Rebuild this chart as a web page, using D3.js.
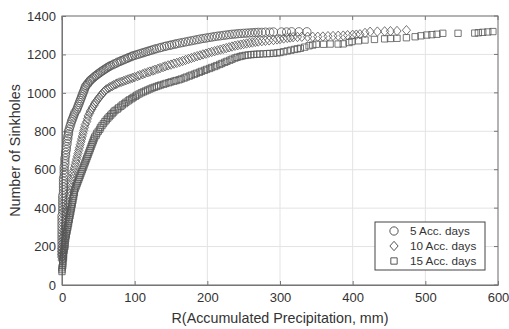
<!DOCTYPE html>
<html>
<head>
<meta charset="utf-8">
<script src="https://cdn.jsdelivr.net/npm/d3@7"></script>
<style>
  body { margin: 0; background: #fff; }
  svg { display: block; font-family: "Liberation Sans", Arial, sans-serif; }
</style>
</head>
<body>
<svg width="509" height="329"></svg>
<script>
// [R (mm), number of sinkholes]
// 5 accumulated days (circles)
let acc5 = [[0,150],[0,165],[0,180],[0,195],[0,210],[0,225],[0,240],[0,255],[0,270],[0,285],[0,300],[0,315],[0,330],[0,345],[0,360],
  [1,375],[1,390],[1,405],[1,420],[1,435],[1,450],[1,465],[2,480],[2,495],[2,510],[2,525],[2,540],[2,555],
  [3,570],[3,585],[3,600],[3,615],[4,630],[4,645],[4,660],[5,675],[5,690],[6,705],[6,720],[7,735],[7,750],
  [8,762],[8,775],[9,787],[9,800],[10,812],[11,825],[12,837],[13,850],[14,860],[15,870],[16,880],[17,890],
  [18,900],[20,910],[21,920],[22,930],[23,940],[24,950],[25,960],[26,970],[27,980],[28,990],[29,1000],[30,1010],
  [31,1020],[32,1030],[33,1038],[35,1045],[36,1052],[38,1060],[39,1066],[41,1072],[43,1078],[45,1085],[47,1091],
  [49,1097],[51,1102],[53,1108],[55,1113],[57,1118],[59,1123],[61,1128],[63,1133],[65,1137],[67,1142],[70,1146],
  [72,1151],[75,1155],[77,1160],[80,1164],[82,1168],[85,1172],[87,1176],[90,1180],[92,1184],[95,1188],[97,1192],
  [100,1195],[103,1199],[106,1202],[109,1206],[112,1209],[115,1213],[118,1216],[121,1220],[124,1223],[127,1227],
  [130,1230],[134,1234],[137,1237],[141,1241],[144,1244],[148,1247],[151,1250],[155,1253],[158,1256],[162,1259],
  [166,1262],[170,1265],[174,1268],[178,1271],[182,1274],[186,1277],[190,1280],[194,1283],[198,1285],[202,1288],
  [206,1290],[210,1293],[214,1295],[218,1297],[222,1299],[226,1301],[230,1303],[234,1305],[238,1306],[242,1308],
  [246,1309],[250,1310],[254,1311],[258,1312],[262,1313],[266,1314],[270,1315],[275,1315],[280,1316],[286,1316],
  [291,1317],[302,1317],[309,1317],[316,1318],[326,1318],[337,1318]];

// 10 accumulated days (diamonds)
let acc10 = [[0,130],[0,145],[0,160],[0,175],[0,190],[1,205],[1,220],[2,235],[2,250],[3,265],[3,280],[4,295],[4,310],
  [5,325],[5,340],[6,355],[6,370],[7,385],[7,400],[8,415],[8,430],[9,445],[10,460],[10,475],[11,490],[12,505],
  [12,520],[13,535],[14,550],[15,565],[15,580],[16,595],[17,610],[18,625],[19,640],[20,655],[21,670],[22,685],
  [23,700],[24,715],[25,730],[26,745],[27,760],[28,775],[29,790],[30,805],[31,820],[32,835],[34,850],[35,865],
  [36,880],[38,893],[39,905],[41,915],[42,925],[44,935],[45,945],[47,955],[49,965],[51,975],[53,985],[55,994],
  [57,1003],[59,1011],[61,1018],[64,1024],[66,1030],[69,1035],[71,1040],[74,1045],[76,1049],[79,1054],[82,1058],
  [85,1062],[88,1066],[91,1070],[94,1074],[97,1078],[100,1082],[104,1087],[107,1092],[111,1097],[114,1102],
  [118,1107],[121,1111],[125,1116],[128,1120],[132,1125],[135,1129],[139,1134],[142,1138],[146,1143],[150,1147],
  [154,1152],[158,1156],[162,1161],[166,1166],[170,1171],[174,1176],[178,1181],[182,1186],[186,1191],[190,1195],
  [194,1200],[198,1204],[202,1209],[206,1213],[210,1217],[214,1221],[218,1225],[222,1229],[226,1233],[230,1237],
  [234,1241],[238,1245],[242,1248],[246,1251],[250,1254],[254,1257],[258,1260],[262,1262],[266,1265],[270,1267],
  [275,1269],[280,1271],[285,1273],[291,1275],[296,1278],[300,1280],[305,1283],[310,1286],[314,1288],[318,1290],
  [324,1291],[330,1292],[338,1292],[345,1292],[352,1292],[359,1293],[366,1295],[373,1296],[380,1297],[387,1298],
  [393,1300],[400,1302],[405,1303],[410,1305],[417,1312],[424,1318],[434,1319],[444,1320],[452,1321],[461,1322],[474,1326]];

// 15 accumulated days (squares)
let acc15 = [[0,70],[0,80],[0,90],[1,100],[1,110],[1,120],[1,130],[2,140],[2,150],[2,160],[2,170],[3,180],[3,190],
  [4,200],[4,210],[4,220],[4,230],[5,240],[5,250],[6,260],[6,270],[7,280],[7,290],[8,300],[8,310],[9,320],[9,330],
  [10,340],[10,350],[11,360],[11,370],[12,380],[12,390],[13,400],[13,410],[14,420],[14,430],[15,440],[15,450],
  [16,460],[16,470],[17,480],[17,490],[18,500],[19,510],[20,520],[21,530],[22,540],[23,550],[24,560],[25,570],
  [26,580],[27,590],[28,600],[29,610],[30,620],[31,630],[32,640],[33,650],[34,660],[35,670],[36,680],[37,690],
  [38,700],[39,710],[40,720],[41,730],[42,740],[43,750],[44,760],[45,770],[47,780],[48,790],[50,800],[52,810],
  [53,820],[55,830],[57,840],[59,850],[61,859],[63,868],[65,876],[67,884],[69,892],[71,900],[73,908],[76,915],
  [78,922],[81,930],[83,937],[86,944],[88,951],[91,958],[93,964],[96,970],[98,976],[101,982],[103,988],[106,994],
  [109,1000],[112,1005],[115,1010],[118,1015],[121,1020],[124,1025],[127,1029],[130,1033],[133,1037],[136,1041],
  [140,1045],[143,1049],[147,1053],[150,1057],[154,1061],[157,1064],[161,1068],[164,1072],[168,1077],[171,1082],
  [175,1087],[178,1092],[182,1097],[185,1102],[189,1107],[192,1112],[196,1117],[199,1122],[203,1127],[206,1132],
  [210,1137],[213,1142],[217,1148],[220,1153],[224,1159],[227,1164],[231,1170],[234,1175],[238,1181],[241,1185],
  [245,1189],[248,1192],[252,1195],[256,1197],[260,1199],[264,1200],[268,1201],[272,1202],[277,1203],[282,1204],
  [286,1205],[291,1206],[296,1208],[300,1210],[305,1214],[310,1218],[315,1222],[320,1226],[324,1229],[328,1232],
  [334,1238],[340,1245],[345,1249],[350,1253],[360,1253],[369,1254],[380,1254],[387,1255],[395,1262],[399,1267],
  [408,1271],[417,1275],[430,1278],[444,1281],[452,1283],[461,1284],[474,1287],[486,1292],[494,1297],[502,1301],
  [509,1303],[516,1305],[524,1310],[545,1310],[568,1311],[573,1313],[579,1315],[586,1317],[593,1319]];

let xTicks = [0,100,200,300,400,500,600];
let yTicks = [0,200,400,600,800,1000,1200,1400];
let seriesNames = ["5 Acc. days", "10 Acc. days", "15 Acc. days"];

let svg = d3.select('svg');

let x = d3.scaleLinear().domain([0, 600]).range([62, 498]);
let y = d3.scaleLinear().domain([0, 1400]).range([285, 16]);

let textColor = '#333';
let axisColor = '#777';
let markColor = '#555';

// grid
svg.append('g')
  .selectAll('line')
  .data(xTicks)
  .enter()
  .append('line')
  .attr('x1', d => x(d)).attr('x2', d => x(d))
  .attr('y1', y(0)).attr('y2', y(1400))
  .attr('stroke', '#e3e3e3');

svg.append('g')
  .selectAll('line')
  .data(yTicks)
  .enter()
  .append('line')
  .attr('x1', x(0)).attr('x2', x(600))
  .attr('y1', d => y(d)).attr('y2', d => y(d))
  .attr('stroke', '#e3e3e3');

// axes
let xAxis = svg.append('g')
  .attr('transform', `translate(0,${y(0)})`)
  .call(d3.axisBottom(x).tickValues(xTicks).tickFormat(d3.format('d')).tickSize(-4).tickPadding(8).tickSizeOuter(0));

let yAxis = svg.append('g')
  .attr('transform', `translate(${x(0)},0)`)
  .call(d3.axisLeft(y).tickValues(yTicks).tickFormat(d3.format('d')).tickSize(-4).tickPadding(6).tickSizeOuter(0));

[xAxis, yAxis].forEach(a => {
  a.selectAll('path, line').attr('stroke', axisColor);
  a.selectAll('text').attr('fill', textColor).style('font-size', '13px').style('font-family', '"Liberation Sans", Arial, sans-serif');
});

// top and right ticks (box on)
svg.append('g').selectAll('line').data(xTicks).enter().append('line')
  .attr('x1', d => x(d)).attr('x2', d => x(d))
  .attr('y1', y(1400)).attr('y2', y(1400) + 4)
  .attr('stroke', axisColor);
svg.append('g').selectAll('line').data(yTicks).enter().append('line')
  .attr('x1', x(600)).attr('x2', x(600) - 4)
  .attr('y1', d => y(d)).attr('y2', d => y(d))
  .attr('stroke', axisColor);

svg.append('rect')
  .attr('x', x(0)).attr('y', y(1400))
  .attr('width', x(600) - x(0)).attr('height', y(0) - y(1400))
  .attr('fill', 'none')
  .attr('stroke', axisColor);

// markers
let circleShape = d3.symbol().type(d3.symbolCircle).size(54)();
let squareShape = d3.symbol().type(d3.symbolSquare).size(40)();
let diamondShape = 'M0,-4.7L4.1,0L0,4.7L-4.1,0Z';

let series = [
  { data: acc5, shape: circleShape },
  { data: acc10, shape: diamondShape },
  { data: acc15, shape: squareShape }
];

series.slice().reverse().forEach(s => {
  svg.append('g')
    .selectAll('path')
    .data(s.data)
    .enter()
    .append('path')
    .attr('d', s.shape)
    .attr('transform', d => `translate(${x(d[0])},${y(d[1])})`)
    .attr('fill', 'none')
    .attr('stroke', markColor)
    .attr('stroke-opacity', 0.8)
    .attr('stroke-width', 1);
});

// axis labels
svg.append('text')
  .attr('x', (x(0) + x(600)) / 2)
  .attr('y', 323)
  .attr('text-anchor', 'middle')
  .attr('fill', textColor)
  .style('font-size', '14.3px')
  .text('R(Accumulated Precipitation, mm)');

svg.append('text')
  .attr('transform', `translate(20,${(y(0) + y(1400)) / 2}) rotate(-90)`)
  .attr('text-anchor', 'middle')
  .attr('fill', textColor)
  .style('font-size', '14.3px')
  .text('Number of Sinkholes');

// legend
let legend = svg.append('g').attr('transform', 'translate(375,222)');
legend.append('rect')
  .attr('width', 110).attr('height', 48)
  .attr('fill', '#fff')
  .attr('stroke', '#444');

legend.selectAll('g.item')
  .data(seriesNames)
  .enter()
  .append('g')
  .attr('class', 'item')
  .attr('transform', (d, i) => `translate(0,${9 + i * 15})`)
  .each(function (d, i) {
    let g = d3.select(this);
    g.append('path')
      .attr('d', series[i].shape)
      .attr('transform', 'translate(19,0)')
      .attr('fill', 'none')
      .attr('stroke', markColor)
      .attr('stroke-width', 1);
    g.append('text')
      .attr('x', 35)
      .attr('dy', '0.35em')
      .attr('fill', textColor)
      .style('font-size', '11.7px')
      .text(d);
  });
</script>
</body>
</html>
